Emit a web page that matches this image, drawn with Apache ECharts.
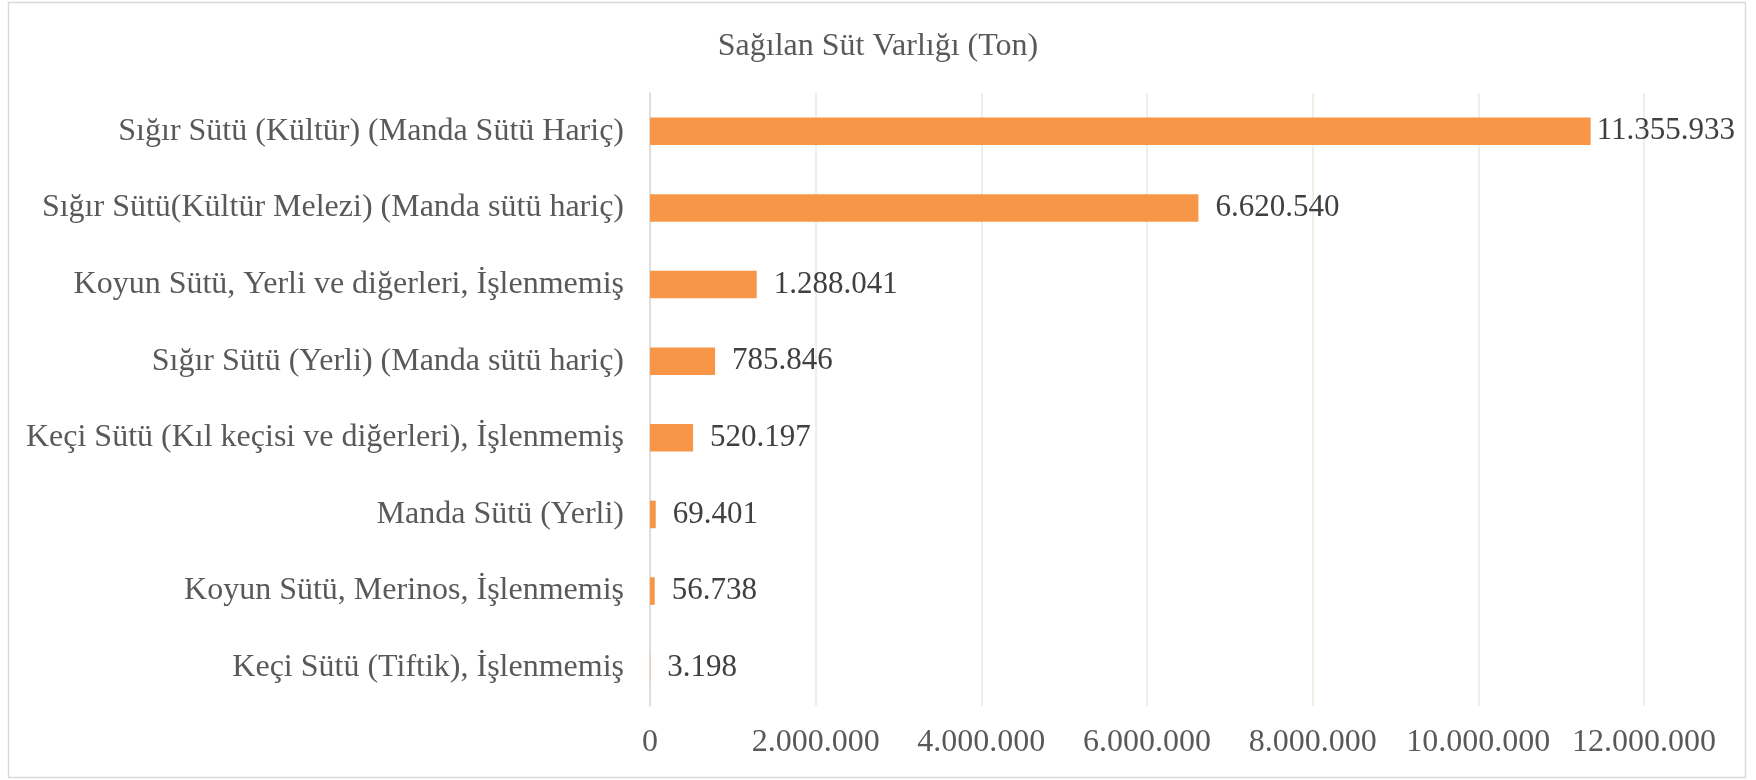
<!DOCTYPE html>
<html>
<head>
<meta charset="utf-8">
<script src="https://cdn.jsdelivr.net/npm/echarts@6/dist/echarts.min.js"></script>
<style>
html, body { margin: 0; padding: 0; background: #fff; }
#chart { width: 1756px; height: 780px; }
</style>
</head>
<body>
<div id="chart"></div>
<script>
var categories = [
    'Keçi Sütü (Tiftik), İşlenmemiş',
    'Koyun Sütü, Merinos, İşlenmemiş',
    'Manda Sütü (Yerli)',
    'Keçi Sütü (Kıl keçisi ve diğerleri), İşlenmemiş',
    'Sığır Sütü (Yerli) (Manda sütü hariç)',
    'Koyun Sütü, Yerli ve diğerleri, İşlenmemiş',
    'Sığır Sütü(Kültür Melezi) (Manda sütü hariç)',
    'Sığır Sütü (Kültür) (Manda Sütü Hariç)'
];
var values = [3198, 56738, 69401, 520197, 785846, 1288041, 6620540, 11355933];
var axisMax = 12000000;
var axisStep = 2000000;

function fmt(v) {
    return String(v).replace(/\B(?=(\d{3})+(?!\d))/g, '.');
}

var dom = document.getElementById('chart');
var myChart = echarts.init(dom, null, { renderer: 'canvas' });

var font = '"Liberation Serif", "Times New Roman", serif';

// the longest bar's label sits tighter to the bar (near the chart edge)
var barData = values.map(function (v, i) {
    if (i === values.length - 1) {
        return { value: v, label: { distance: 6 } };
    }
    return v;
});

var option = {
    animation: false,
    backgroundColor: '#fff',
    textStyle: { fontFamily: font },
    title: {
        text: 'Sağılan Süt Varlığı (Ton)',
        left: 'center',
        top: 26,
        textStyle: { fontFamily: font, fontWeight: 'normal', fontSize: 32, color: '#595959' }
    },
    graphic: [{
        type: 'rect',
        shape: { x: 8.5, y: 2.5, width: 1737, height: 775 },
        style: { fill: 'none', stroke: '#d9d9d9', lineWidth: 1.5 },
        silent: true
    }],
    grid: { left: 650, right: 112, top: 93, bottom: 74 },
    xAxis: {
        type: 'value',
        min: 0,
        max: axisMax,
        interval: axisStep,
        axisLine: { show: false },
        axisTick: { show: false },
        splitLine: { lineStyle: { color: '#ebe8dc', width: 1.5 } },
        axisLabel: {
            fontFamily: font, fontSize: 32, color: '#595959', margin: 21,
            formatter: function (v) { return fmt(v); }
        }
    },
    yAxis: {
        type: 'category',
        data: categories,
        axisLine: { show: true, lineStyle: { color: '#d9d9d9', width: 1.5 } },
        axisTick: { show: false },
        axisLabel: { fontFamily: font, fontSize: 32, color: '#595959', margin: 26 }
    },
    series: [{
        type: 'bar',
        data: barData,
        barCategoryGap: '64%',
        itemStyle: { color: '#F79646' },
        label: {
            show: true,
            position: 'right',
            distance: 17,
            fontFamily: font,
            fontSize: 31,
            color: '#404040',
            formatter: function (p) { return fmt(p.value); }
        }
    }]
};

myChart.setOption(option);
window.addEventListener('resize', myChart.resize);
</script>
</body>
</html>
